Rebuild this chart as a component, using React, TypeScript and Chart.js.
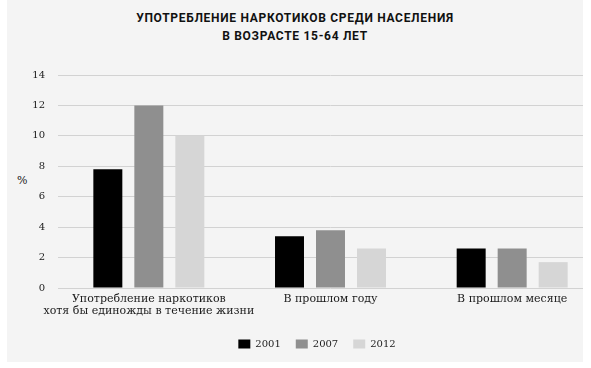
import React, { useEffect, useRef } from "react";
import { Chart, registerables } from "chart.js";

Chart.register(...registerables);

const titleLines = ["УПОТРЕБЛЕНИЕ НАРКОТИКОВ СРЕДИ НАСЕЛЕНИЯ", "В ВОЗРАСТЕ 15-64 ЛЕТ"];
const categories: (string | string[])[] = [
  ["Употребление наркотиков", "хотя бы единожды в течение жизни"],
  "В прошлом году",
  "В прошлом месяце",
];
const seriesNames = ["2001", "2007", "2012"];
const values2001 = [7.8, 3.4, 2.6];
const values2007 = [12.0, 3.8, 2.6];
const values2012 = [10.0, 2.6, 1.7];
const seriesColors = ["#000000", "#8f8f8f", "#d6d6d6"];
const yMin = 0;
const yMax = 14;
const yStep = 2;
const yTitle = "%";

const SERIF = "'DejaVu Serif', 'Liberation Serif', serif";

export default function App() {
  const canvasRef = useRef<HTMLCanvasElement | null>(null);

  useEffect(() => {
    if (!canvasRef.current) return;
    const chart = new Chart(canvasRef.current, {
      type: "bar",
      data: {
        labels: categories,
        datasets: [values2001, values2007, values2012].map((vals, i) => ({
          label: seriesNames[i],
          data: vals,
          backgroundColor: seriesColors[i],
          borderWidth: 0,
          categoryPercentage: 0.677,
          barPercentage: 0.707,
        })),
      },
      options: {
        animation: false,
        responsive: true,
        maintainAspectRatio: false,
        layout: { padding: { left: 24, right: 23, top: 75, bottom: 0 } },
        plugins: {
          title: { display: false },
          tooltip: { enabled: false },
          legend: {
            position: "bottom",
            labels: {
              boxWidth: 12,
              boxHeight: 9,
              padding: 15,
              color: "#1a1a1a",
              font: { family: SERIF, size: 10 },
            },
          },
        },
        scales: {
          x: {
            offset: true,
            grid: { display: false, drawTicks: false },
            border: { display: false },
            afterFit: (s: any) => {
              s.height = 36;
            },
            ticks: {
              padding: 5,
              color: "#1a1a1a",
              font: { family: SERIF, size: 11, lineHeight: 1.1 },
              maxRotation: 0,
              autoSkip: false,
            },
          },
          y: {
            min: yMin,
            max: yMax,
            grid: { color: "#d2d2d2", lineWidth: 1, drawTicks: false },
            border: { display: false },
            afterFit: (s: any) => {
              s.width = 27;
            },
            ticks: {
              stepSize: yStep,
              padding: 13,
              color: "#1a1a1a",
              font: { family: SERIF, size: 10 },
            },
          },
        },
      },
    });
    return () => chart.destroy();
  }, []);

  return (
    <div
      style={{
        position: "absolute",
        left: 7,
        top: 0,
        width: 576,
        height: 362,
        background: "#f4f4f4",
        overflow: "hidden",
      }}
    >
      <div
        style={{
          position: "absolute",
          left: 0,
          top: 9,
          width: 576,
          textAlign: "center",
          fontFamily: "Roboto, 'Open Sans', sans-serif",
          fontWeight: 700,
          fontSize: 12,
          letterSpacing: 0.7,
          lineHeight: "18px",
          color: "#111",
        }}
      >
        {titleLines.map((t) => (
          <div key={t}>{t}</div>
        ))}
      </div>
      <div
        style={{
          position: "absolute",
          left: 10,
          top: 174,
          fontFamily: SERIF,
          fontSize: 11,
          color: "#1a1a1a",
        }}
      >
        {yTitle}
      </div>
      <div style={{ position: "absolute", left: 0, top: 0, width: 619, height: 359 }}>
        <canvas ref={canvasRef} />
      </div>
    </div>
  );
}
